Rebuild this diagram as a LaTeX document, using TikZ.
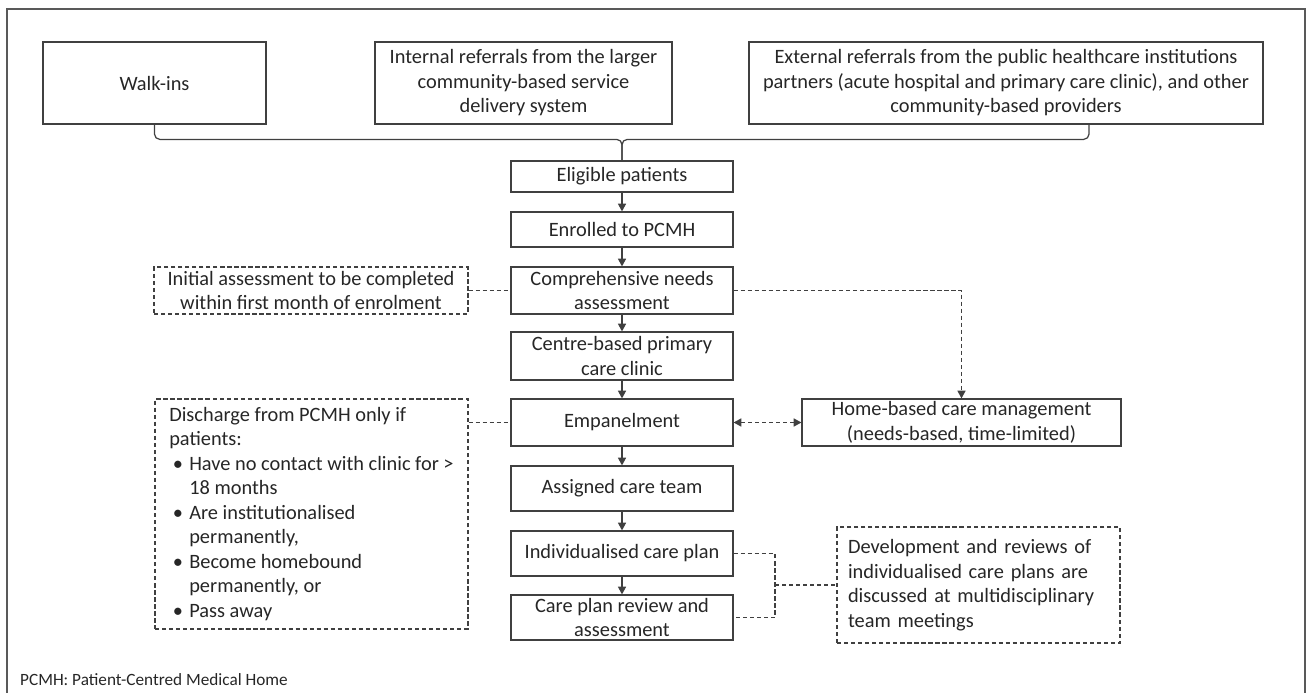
\documentclass[tikz,border=0pt]{standalone}
\usepackage{fontspec}
\setmainfont{Carlito}
\usepackage{tikz}
\usetikzlibrary{arrows.meta, calc}
\usepackage{xcolor}
\definecolor{lineC}{RGB}{64, 64, 64}
\definecolor{textC}{RGB}{38, 38, 38}
\definecolor{frameC}{RGB}{89, 89, 89}
\newcommand{\bulitem}{\makebox[0.4cm][l]{\hspace{0.07cm}\textbullet}}
\newcommand{\bulindent}{\hspace*{0.4cm}}
\tikzset{
    every node/.style={font=\fontsize{11.6pt}{13.94pt}\selectfont, text=textC},
    box/.style={draw=lineC, line width=0.7pt, align=center, inner sep=0pt},
    note/.style={box, dash pattern=on 2.4pt off 1.6pt},
    conn/.style={draw=lineC, line width=0.7pt},
    arr/.style={conn, -{Triangle[length=4.4pt, width=4.6pt]}},
    dashconn/.style={conn, dash pattern=on 2.4pt off 1.6pt},
}

\begin{document}
\begin{tikzpicture}[x=0.02cm, y=-0.02cm]
    \useasboundingbox (0,0) rectangle (1309,693);
    \draw[frameC, line width=1.1pt] (7,720) -- (7,9) -- (1305,9) -- (1305,720);

    % where patients come from
    \node (walkins) [box, minimum width=4.46cm, minimum height=1.64cm] at (154.5,83) {Walk-ins};
    \node (internal) [box, minimum width=5.94cm, minimum height=1.64cm] at (523.5,83) {Internal referrals from the larger\\community-based service\\delivery system};
    \node (external) [box, minimum width=10.28cm, minimum height=1.64cm] at (1006,83) {External referrals from the public healthcare institutions\\partners (acute hospital and primary care clinic), and other\\community-based providers};
    \coordinate (braceend) at (1089,124);

    % main pathway
    \node (eligible) [box, minimum width=4.44cm, minimum height=0.62cm] at (622,176.5) {Eligible patients};
    \node (enrolled) [box, minimum width=4.44cm, minimum height=0.7cm] at (622,229.5) {Enrolled to PCMH};
    \node (needs) [box, minimum width=4.44cm, minimum height=0.94cm] at (622,290.5) {Comprehensive needs\\assessment};
    \node (centre) [box, minimum width=4.44cm, minimum height=0.96cm] at (622,356) {Centre-based primary\\care clinic};
    \node (empanel) [box, minimum width=4.44cm, minimum height=0.94cm] at (622,422.5) {Empanelment};
    \node (team) [box, minimum width=4.44cm, minimum height=0.9cm] at (622,488.5) {Assigned care team};
    \node (plan) [box, minimum width=4.44cm, minimum height=0.9cm] at (622,553.5) {Individualised care plan};
    \node (review) [box, minimum width=4.44cm, minimum height=0.9cm] at (622,617.5) {Care plan review and\\assessment};

    % side notes
    \node (initial) [note, minimum width=6.28cm, minimum height=0.94cm] at (311,290.5) {Initial assessment to be completed\\within first month of enrolment};
    \node (home) [box, minimum width=6.38cm, minimum height=0.94cm] at (961.5,422.5) {Home-based care management\\(needs-based, time-limited)};
    \node (discharge) [note, minimum width=6.26cm, minimum height=4.6cm, align=left] at (311.5,514) {Discharge from PCMH only if\\patients:\\\bulitem Have no contact with clinic for >\\\bulindent 18 months\\\bulitem Are institutionalised\\\bulindent permanently,\\\bulitem Become homebound\\\bulindent permanently, or\\\bulitem Pass away};
    \node (develop) [note, minimum width=5.66cm, minimum height=2.32cm, text width=5.22cm, align=left, inner xsep=0.22cm] at (978.5,585) {Development and reviews of\\individualised care plans are\\discussed at multidisciplinary\\team meetings};
    \coordinate (split) at (775,585);

    \node (foot) [anchor=west, font=\fontsize{9.8pt}{12pt}\selectfont] at (14,680) {PCMH: Patient-Centred Medical Home};

    % brace joining the three sources
    \draw[conn, rounded corners=3pt] (walkins.south) |- ($(eligible.north)+(0,-21)$) -- (eligible.north);
    \draw[conn, rounded corners=3pt] (braceend) |- ($(eligible.north)+(0,-21)$) -- (eligible.north);

    \draw[arr] (eligible) -- (enrolled);
    \draw[arr] (enrolled) -- (needs);
    \draw[arr] (needs) -- (centre);
    \draw[arr] (centre) -- (empanel);
    \draw[arr] (empanel) -- (team);
    \draw[arr] (team) -- (plan);
    \draw[arr] (plan) -- (review);

    \draw[dashconn] (initial) -- (needs);
    \draw[dashconn, -{Triangle[length=4.4pt, width=4.6pt]}] (needs) -| (home);
    \draw[dashconn, {Triangle[length=4.4pt, width=4.6pt]}-{Triangle[length=4.4pt, width=4.6pt]}] (empanel) -- (home);
    \draw[dashconn] (discharge.east |- empanel) -- (empanel);
    \draw[dashconn] (plan) -| (split) |- (review);
    \draw[dashconn] (split) -- (develop);
\end{tikzpicture}
\end{document}
